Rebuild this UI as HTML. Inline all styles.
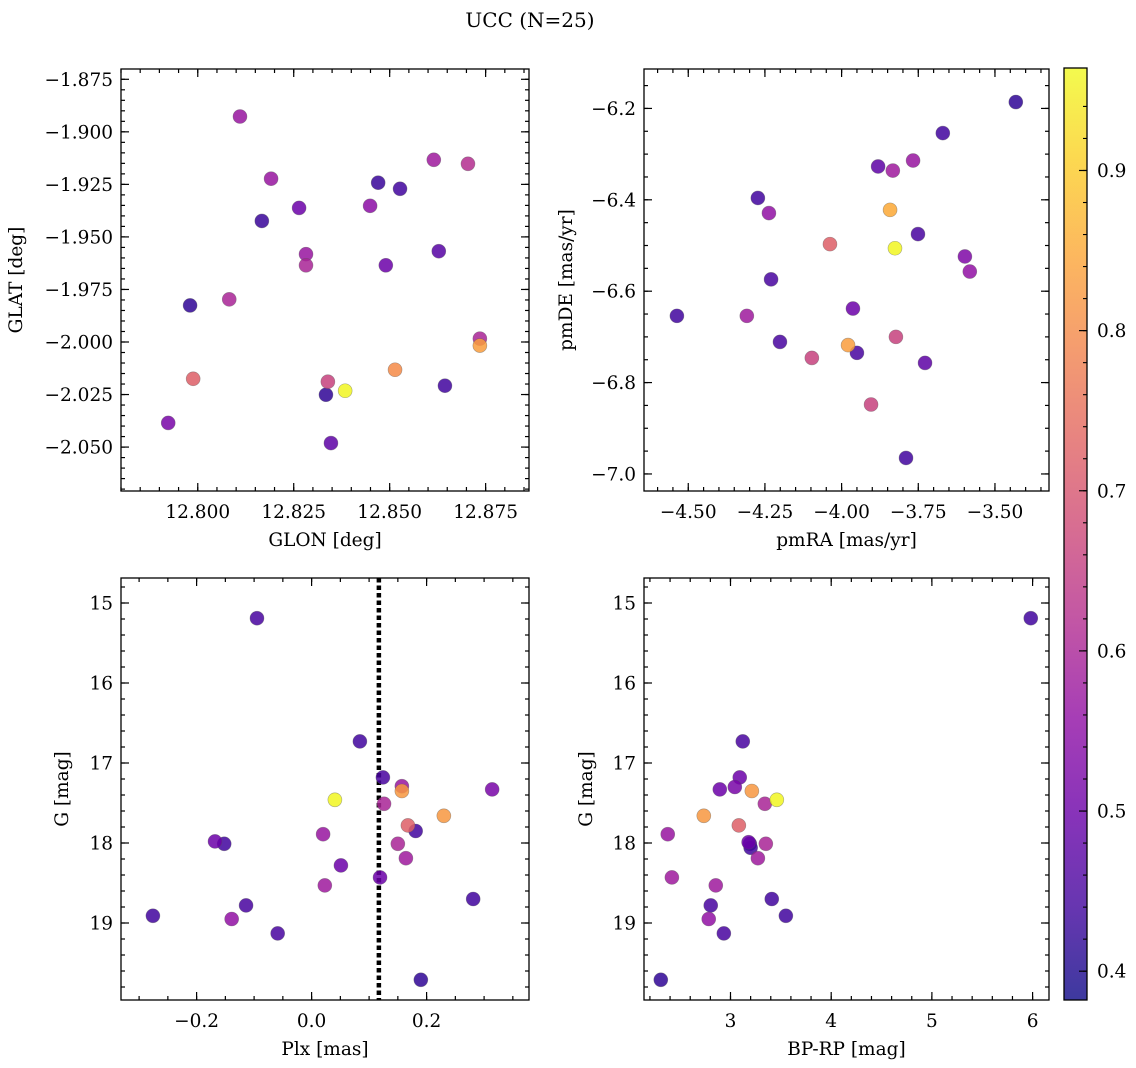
<!DOCTYPE html>
<html><head><meta charset="utf-8">
<style>
html,body{margin:0;padding:0;background:#fff;}
svg{display:block;font-family:"DejaVu Serif","Liberation Serif",serif;}
</style></head>
<body>
<svg id="fig" width="1136" height="1068" viewBox="0 0 1136 1068" xmlns="http://www.w3.org/2000/svg">
<text x="530" y="27" font-size="20" text-anchor="middle">UCC (N=25)</text>
</svg>
<script>
// Panel 1: GLON vs GLAT
const glon = [12.8110,12.8191,12.8167,12.8264,12.8282,12.8282,12.7980,12.8082,12.7988,12.7923,12.8470,12.8449,12.8527,12.8490,12.8615,12.8704,12.8628,12.8735,12.8735,12.8339,12.8384,12.8334,12.8514,12.8644,12.8347];
const glat = [-1.8927,-1.9223,-1.9424,-1.9362,-1.9582,-1.9635,-1.9826,-1.9797,-2.0175,-2.0385,-1.9242,-1.9352,-1.9271,-1.9635,-1.9133,-1.9152,-1.9568,-1.9984,-2.0017,-2.0189,-2.0232,-2.0251,-2.0132,-2.0208,-2.0481];
const prob1 = [0.57,0.57,0.43,0.50,0.57,0.60,0.42,0.60,0.72,0.52,0.43,0.55,0.44,0.50,0.58,0.62,0.47,0.60,0.83,0.66,0.96,0.42,0.80,0.44,0.48];
// Panel 2: pmRA vs pmDE
const pmra = [-3.432,-3.670,-3.881,-3.767,-3.833,-4.273,-4.237,-3.842,-4.038,-3.826,-3.751,-4.230,-3.598,-3.582,-4.537,-4.309,-3.963,-4.201,-4.097,-3.979,-3.950,-3.823,-3.728,-3.904,-3.790];
const pmde = [-6.186,-6.254,-6.327,-6.314,-6.336,-6.396,-6.429,-6.422,-6.497,-6.506,-6.475,-6.574,-6.524,-6.557,-6.654,-6.654,-6.638,-6.711,-6.746,-6.718,-6.735,-6.700,-6.757,-6.848,-6.965];
const prob2 = [0.42,0.44,0.48,0.57,0.58,0.44,0.56,0.85,0.72,0.96,0.45,0.45,0.53,0.56,0.44,0.58,0.50,0.45,0.66,0.83,0.45,0.66,0.48,0.66,0.44];
// Panel 3: Plx vs G
const plx = [-0.095,0.084,0.124,0.0405,0.157,0.157,0.126,0.230,0.1675,0.181,0.020,-0.168,-0.152,0.150,0.051,0.164,0.119,0.023,0.281,-0.276,-0.139,-0.114,-0.059,0.190,0.314];
const gmag3 = [15.19,16.73,17.18,17.46,17.29,17.35,17.51,17.66,17.78,17.85,17.89,17.98,18.01,18.01,18.28,18.19,18.43,18.53,18.70,18.91,18.95,18.78,19.13,19.71,17.33];
const prob3 = [0.45,0.44,0.45,0.96,0.57,0.82,0.60,0.82,0.72,0.44,0.57,0.50,0.44,0.60,0.50,0.58,0.50,0.58,0.44,0.44,0.56,0.45,0.45,0.42,0.52];
const plxLine = [0.117];
// Panel 4: BP-RP vs G
const bprp = [5.982,3.122,3.092,3.460,3.043,2.894,3.212,3.341,2.735,3.083,3.192,3.351,2.377,3.272,3.180,2.418,2.854,3.410,2.804,2.784,3.550,2.934,2.308,3.200];
const gmag4 = [15.19,16.73,17.18,17.46,17.30,17.33,17.35,17.51,17.66,17.78,18.01,18.01,17.89,18.19,17.99,18.43,18.53,18.70,18.78,18.95,18.91,19.13,19.71,18.06];
const prob4 = [0.44,0.45,0.50,0.96,0.52,0.50,0.82,0.60,0.82,0.72,0.44,0.60,0.57,0.58,0.50,0.58,0.58,0.44,0.45,0.56,0.44,0.45,0.42,0.44];
// Tick labels
const ticks1x = [12.800,12.825,12.850,12.875];
const ticks1xLab = ["12.800","12.825","12.850","12.875"];
const ticks1y = [-1.875,-1.900,-1.925,-1.950,-1.975,-2.000,-2.025,-2.050];
const ticks1yLab = ["\u22121.875","\u22121.900","\u22121.925","\u22121.950","\u22121.975","\u22122.000","\u22122.025","\u22122.050"];
const ticks2x = [-4.50,-4.25,-4.00,-3.75,-3.50];
const ticks2xLab = ["\u22124.50","\u22124.25","\u22124.00","\u22123.75","\u22123.50"];
const ticks2y = [-6.2,-6.4,-6.6,-6.8,-7.0];
const ticks2yLab = ["\u22126.2","\u22126.4","\u22126.6","\u22126.8","\u22127.0"];
const ticks3x = [-0.2,0.0,0.2];
const ticks3xLab = ["\u22120.2","0.0","0.2"];
const ticksGy = [15,16,17,18,19];
const ticksGyLab = ["15","16","17","18","19"];
const ticks4x = [3,4,5,6];
const ticks4xLab = ["3","4","5","6"];
const cbTicks = [0.4,0.5,0.6,0.7,0.8,0.9];
const cbTickLab = ["0.4","0.5","0.6","0.7","0.8","0.9"];
const vmin = 0.382, vmax = 0.964;

const NS = "http://www.w3.org/2000/svg";
const svg = document.getElementById('fig');
function mk(tag, attrs, parent){const e=document.createElementNS(NS,tag);for(const k in attrs)e.setAttribute(k,attrs[k]);(parent||svg).appendChild(e);return e;}

const plasma = [[13,8,135],[65,4,157],[106,0,168],[143,13,164],[177,42,144],[204,71,120],[225,100,98],[242,132,75],[252,166,54],[252,206,37],[240,249,33]];
function cmap(v){let t=(v-vmin)/(vmax-vmin);t=Math.max(0,Math.min(1,t))*10;const i=Math.min(9,Math.floor(t)),f=t-i;const a=plasma[i],b=plasma[i+1];return `rgb(${Math.round(a[0]+(b[0]-a[0])*f)},${Math.round(a[1]+(b[1]-a[1])*f)},${Math.round(a[2]+(b[2]-a[2])*f)})`;}

const FS = 18.5;
function panel(o){
  const g = mk('g',{});
  
  
  const X = v => o.x0 + (v - o.xr[0])/(o.xr[1]-o.xr[0])*o.w;
  const Y = v => o.y0 + (o.yr[1] - v)/(o.yr[1]-o.yr[0])*o.h;
  const tg = mk('g',{stroke:'#000','stroke-width':1.2},g);
  function minors(r, step){const out=[];let s=Math.ceil(Math.min(r[0],r[1])/step-1e-6)*step;for(let v=s; v<=Math.max(r[0],r[1])+1e-9; v+=step) out.push(v);return out;}
  minors(o.xr,o.xminor).forEach(v=>{const px=X(v);mk('line',{x1:px,x2:px,y1:o.y0+o.h,y2:o.y0+o.h-4},tg);mk('line',{x1:px,x2:px,y1:o.y0,y2:o.y0+4},tg);});
  minors(o.yr,o.yminor).forEach(v=>{const py=Y(v);mk('line',{x1:o.x0,x2:o.x0+4,y1:py,y2:py},tg);mk('line',{x1:o.x0+o.w,x2:o.x0+o.w-4,y1:py,y2:py},tg);});
  o.xt.forEach((v,i)=>{const px=X(v);mk('line',{x1:px,x2:px,y1:o.y0+o.h,y2:o.y0+o.h-8},tg);mk('line',{x1:px,x2:px,y1:o.y0,y2:o.y0+8},tg);
    const t=mk('text',{x:px,y:o.y0+o.h+27,'font-size':FS,'text-anchor':'middle'},g);t.textContent=o.xl[i];
    
    });
  o.yt.forEach((v,i)=>{const py=Y(v);mk('line',{x1:o.x0,x2:o.x0+8,y1:py,y2:py},tg);mk('line',{x1:o.x0+o.w,x2:o.x0+o.w-8,y1:py,y2:py},tg);
    const t=mk('text',{x:o.x0-8,y:py+6.5,'font-size':FS,'text-anchor':'end'},g);t.textContent=o.yl[i];
    
    });
  const fr=mk('rect',{x:o.x0,y:o.y0,width:o.w,height:o.h,fill:'none',stroke:'#000','stroke-width':1.3},g);
  
  
  const xl=mk('text',{x:o.x0+o.w/2,y:o.y0+o.h+55,'font-size':FS,'text-anchor':'middle'},g);xl.textContent=o.xlabel;
  
  
  const yl=mk('text',{x:0,y:0,'font-size':FS,'text-anchor':'middle',transform:`translate(${o.ylx},${o.y0+o.h/2}) rotate(-90)`},g);yl.textContent=o.ylabel;
  
  
  if(o.vline!==undefined){
    const l=mk('line',{x1:X(o.vline),x2:X(o.vline),y1:o.y0,y2:o.y0+o.h,stroke:'#000','stroke-width':4.5,'stroke-dasharray':'4.5 3'},g);
    
    
  }
  const idx=o.xs.map((_,i)=>i).sort((a,b)=>o.c[a]-o.c[b]);
  idx.forEach(i=>{
    const p=mk('circle',{cx:X(o.xs[i]),cy:Y(o.ys[i]),r:7,fill:cmap(o.c[i]),'fill-opacity':0.85,stroke:'rgba(90,90,90,0.5)','stroke-width':0.6},g);
    
    
  });
}

panel({name:'glon-glat-panel',x0:121,y0:69,w:408,h:422,xr:[12.7800,12.8863],yr:[-2.0709,-1.8701],
  xt:ticks1x,xl:ticks1xLab,yt:ticks1y,yl:ticks1yLab,xminor:0.005,yminor:0.005,
  xlabel:'GLON [deg]',ylabel:'GLAT [deg]',ylx:22,xs:glon,ys:glat,c:prob1});
panel({name:'pm-panel',x0:644,y0:69,w:405,h:422,xr:[-4.6443,-3.3238],yr:[-7.0373,-6.1137],
  xt:ticks2x,xl:ticks2xLab,yt:ticks2y,yl:ticks2yLab,xminor:0.05,yminor:0.05,
  xlabel:'pmRA [mas/yr]',ylabel:'pmDE [mas/yr]',ylx:572,xs:pmra,ys:pmde,c:prob2});
panel({name:'plx-g-panel',x0:121,y0:578,w:408,h:422,xr:[-0.3315,0.3781],yr:[-19.9625,-14.6875],
  xt:ticks3x,xl:ticks3xLab,yt:ticksGy.map(v=>-v),yl:ticksGyLab,xminor:0.05,yminor:0.2,
  xlabel:'Plx [mas]',ylabel:'G [mag]',ylx:68,xs:plx,ys:gmag3.map(v=>-v),c:prob3,vline:plxLine[0]});
panel({name:'color-magnitude-panel',x0:644,y0:578,w:405,h:422,xr:[2.1411,6.1629],yr:[-19.9625,-14.6875],
  xt:ticks4x,xl:ticks4xLab,yt:ticksGy.map(v=>-v),yl:ticksGyLab,xminor:0.2,yminor:0.2,
  xlabel:'BP-RP [mag]',ylabel:'G [mag]',ylx:592,xs:bprp,ys:gmag4.map(v=>-v),c:prob4});

// colorbar
const cb = mk('g',{});


const defs=mk('defs',{});
const lg=mk('linearGradient',{id:'pg',x1:0,y1:1,x2:0,y2:0},defs);
plasma.forEach((c,i)=>mk('stop',{offset:i/10,'stop-color':`rgb(${c})`},lg));
const cbx=1064,cby=68,cbw=23,cbh=932;
const CY=v=>cby+(vmax-v)/(vmax-vmin)*cbh;
mk('rect',{x:cbx,y:cby,width:cbw,height:cbh,fill:'url(#pg)','fill-opacity':0.8},cb);
for(let v=0.40; v<=0.96; v+=0.02){const py=CY(v);mk('line',{x1:cbx+cbw,x2:cbx+cbw-4,y1:py,y2:py,stroke:'#000','stroke-width':1.1},cb);}
cbTicks.forEach((v,i)=>{const py=CY(v);mk('line',{x1:cbx+cbw,x2:cbx+cbw-8,y1:py,y2:py,stroke:'#000','stroke-width':1.2},cb);
  const t=mk('text',{x:cbx+cbw+10,y:py+6.5,'font-size':FS},cb);t.textContent=cbTickLab[i];
  
  });
mk('rect',{x:cbx,y:cby,width:cbw,height:cbh,fill:'none',stroke:'#000','stroke-width':1.3},cb);
</script>
</body></html>
